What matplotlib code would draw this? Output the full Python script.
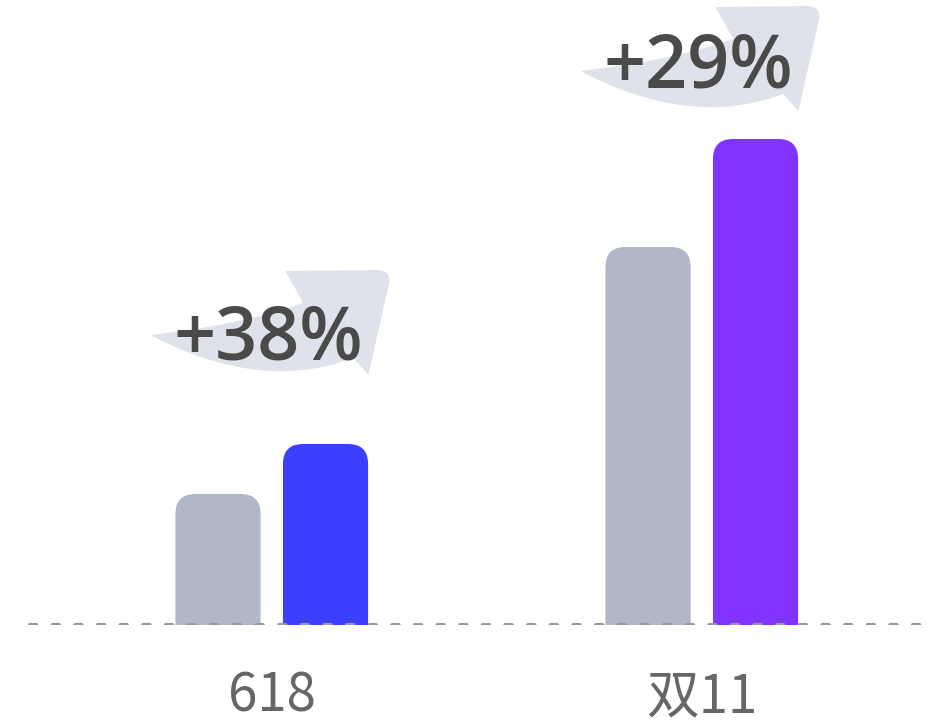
import matplotlib
matplotlib.use("Agg")
import matplotlib.pyplot as plt
from matplotlib.patches import FancyBboxPatch, PathPatch
from matplotlib.path import Path
from matplotlib.transforms import Affine2D

plt.rcParams["lines.scale_dashes"] = False

# data
categories = ["618", "双11"]
before_values = [13.1, 37.8]
after_values = [18.1, 48.6]
growth_labels = ["+38%", "+29%"]

before_color = "#b0b7c6"
after_colors = ["#3d3fff", "#8133ff"]
arrow_color = "#dfe2ea"

# how high the growth label sits above the taller bar (data units)
label_lift = [8.4, 5.1]
# extra downward shift of each arrow behind its label (pixels)
arrow_drop = [0, 8]

fig = plt.figure(figsize=(9.31, 7.24), dpi=100)
ax = fig.add_axes([0, 99 / 724, 1, 625 / 724])
ax.set_xlim(-0.632, 1.533)
ax.set_ylim(0, 62.5)
ax.axis("off")

x = list(range(len(categories)))
offset = 0.125
width = 0.198

bars_before = ax.bar([i - offset for i in x], before_values, width, color=before_color)
bars_after = ax.bar([i + offset for i in x], after_values, width, color=after_colors)


def round_top(rect):
    """Swap a plain bar for one with rounded top corners."""
    rect.set_visible(False)
    bx, h, w = rect.get_x(), rect.get_height(), rect.get_width()
    patch = FancyBboxPatch(
        (bx, -3), w, h + 3,
        boxstyle="round,pad=0,rounding_size=0.0465",
        mutation_aspect=43,
        facecolor=rect.get_facecolor(),
        edgecolor="none",
        zorder=2,
    )
    ax.add_patch(patch)


for rect in list(bars_before) + list(bars_after):
    round_top(rect)

baseline = ax.axhline(0, xmin=30 / 931, xmax=921 / 931, color="#999999", lw=3.0,
                      dashes=(4.6, 11.7), zorder=3)
baseline.set_dash_capstyle("round")

# swoosh arrow outline, pixel offsets from the label's baseline centre (y down)
arrow_verts = [
    (-118, -25), (-28, -35), (35, -57),
    (17, -89), (110, -90),
    (122, -89), (121, -78),
    (100, 15), (85, -2),
    (-8, 33), (-118, -25), (-118, -25),
]
arrow_codes = [
    Path.MOVETO, Path.CURVE3, Path.CURVE3,
    Path.LINETO, Path.LINETO,
    Path.CURVE3, Path.CURVE3,
    Path.LINETO, Path.LINETO,
    Path.CURVE3, Path.CURVE3, Path.CLOSEPOLY,
]
arrow_path = Path(arrow_verts, arrow_codes)

for i, label in enumerate(growth_labels):
    ty = max(before_values[i], after_values[i]) + label_lift[i]
    ox, oy = ax.transData.transform((x[i] - 0.008, ty))
    trans = Affine2D().scale(1, -1).translate(ox, oy - arrow_drop[i])
    ax.add_patch(PathPatch(arrow_path, facecolor=arrow_color, edgecolor="none",
                           transform=trans, clip_on=False, zorder=4))
    ax.text(x[i] - 0.008, ty, label, ha="center", va="baseline",
            fontsize=53, fontweight="semibold", color="#4a4a4a",
            family=["Open Sans", "DejaVu Sans"], zorder=5)

for i, cat in enumerate(categories):
    ax.text(x[i], -87 / 625, cat, ha="center", va="baseline",
            transform=ax.get_xaxis_transform(), fontsize=38, color="#666666",
            family=["Noto Sans CJK SC", "DejaVu Sans"])

fig.savefig("out.png", dpi=100, facecolor="white")
plt.close(fig)
